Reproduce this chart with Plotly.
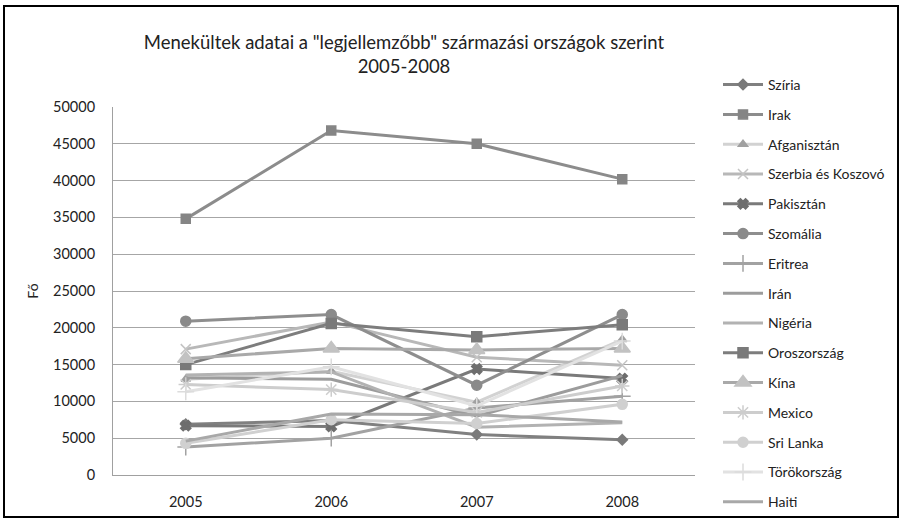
import plotly.graph_objects as go

years = ["2005", "2006", "2007", "2008"]

countries = ["Szíria", "Irak", "Afganisztán", "Szerbia és Koszovó", "Pakisztán",
             "Szomália", "Eritrea", "Irán", "Nigéria", "Oroszország", "Kína",
             "Mexico", "Sri Lanka", "Törökország", "Haiti"]

sziria = [6900, 7400, 5500, 4800]
irak = [34800, 46800, 45000, 40200]
afganisztan = [13000, 14100, 9900, 18400]
szerbia = [17100, 20800, 16000, 14900]
pakisztan = [6700, 6600, 14400, 13100]
szomalia = [20900, 21800, 12200, 21800]
eritrea = [3800, 5000, 9100, 10700]
iran = [13200, 13000, 8000, 13500]
nigeria = [13600, 14000, 6500, 7100]
oroszorszag = [15000, 20600, 18800, 20400]
kina = [15800, 17200, 17000, 17200]
mexico = [12300, 11600, 8500, 12100]
sri_lanka = [4300, 7500, 7000, 9600]
torokorszag = [11300, 14700, 9400, 18200]
haiti = [4600, 8300, 8200, 7200]

series = [sziria, irak, afganisztan, szerbia, pakisztan, szomalia, eritrea, iran,
          nigeria, oroszorszag, kina, mexico, sri_lanka, torokorszag, haiti]

# style: (line color, marker symbol, marker color, marker size)
styles = [
    ("#808080", "diamond", "#7a7a7a", 8),
    ("#8c8c8c", "square", "#858585", 9),
    ("#d2d2d2", "triangle-up", "#a0a0a0", 8),
    ("#b8b8b8", "x-thin-open", "#c4c4c4", 10),
    ("#7a7a7a", "x", "#6e6e6e", 9),
    ("#8e8e8e", "circle", "#8a8a8a", 10),
    ("#a2a2a2", "cross-thin-open", "#a2a2a2", 12),
    ("#9c9c9c", None, None, 0),
    ("#b2b2b2", None, None, 0),
    ("#7d7d7d", "square", "#7a7a7a", 10),
    ("#a9a9a9", "triangle-up", "#c2c2c2", 14),
    ("#cdcdcd", "asterisk-open", "#cdcdcd", 12),
    ("#d0d0d0", "circle", "#d0d0d0", 10),
    ("#e2e2e2", "cross-thin-open", "#dcdcdc", 12),
    ("#a8a8a8", None, None, 0),
]

fig = go.Figure()
for i, (name, vals, st) in enumerate(zip(countries, series, styles)):
    lc, sym, mc, ms = st
    if sym is None:
        mode = "lines"
        marker = None
    else:
        mode = "lines+markers"
        marker = dict(symbol=sym, color=mc, size=ms,
                      line=dict(color=mc, width=1.5))
    fig.add_trace(go.Scatter(
        x=years, y=vals, name=name, mode=mode,
        line=dict(color=lc, width=3),
        marker=marker, legendgroup="g%d" % i,
    ))

L, R, T, B = 113, 209, 107, 46
W, H = 904, 521
pw, ph = W - L - R, H - T - B

def px_x(p):
    return (p - L) / pw

def px_y(p):
    return (H - B - p) / ph

fig.update_layout(
    width=W, height=H,
    margin=dict(l=L, r=R, t=T, b=B, autoexpand=False),
    paper_bgcolor="white", plot_bgcolor="white",
    font=dict(family="Lato, Open Sans, sans-serif", color="#222222", size=14),
    title=dict(
        text='Menekültek adatai a "legjellemzőbb" származási országok szerint<br>2005-2008',
        x=0.5, xref="paper", xanchor="center",
        y=1 - 49 / H, yref="container", yanchor="middle",
        font=dict(size=18.5, color="#222222", family="Lato, Open Sans, sans-serif"),
    ),
    xaxis=dict(
        type="category", range=[-0.5, 3.5],
        showgrid=False, showline=True, linecolor="#a0a0a0", linewidth=1,
        ticks="", tickfont=dict(size=14.5, color="#222222"),
        ticklabelstandoff=14,
        zeroline=False, fixedrange=True,
    ),
    yaxis=dict(
        range=[0, 50000], dtick=5000, tickformat="d",
        showgrid=True, gridcolor="#a6a6a6", gridwidth=1,
        showline=True, linecolor="#a0a0a0", linewidth=1,
        ticks="", tickfont=dict(size=14.5, color="#222222"),
        ticklabelstandoff=14,
        zeroline=False,
        title=dict(text="Fő", font=dict(size=14, color="#222222"), standoff=11),
    ),
    legend=dict(
        x=px_x(718), xanchor="left", y=px_y(69), yanchor="top",
        font=dict(size=14, color="#222222"),
        tracegroupgap=8.6, itemwidth=40, maxheight=480,
        bgcolor="rgba(0,0,0,0)",
    ),
    shapes=[dict(
        type="rect", xref="paper", yref="paper",
        x0=px_x(4), x1=px_x(898), y0=px_y(517), y1=px_y(6),
        line=dict(color="black", width=2), fillcolor="rgba(0,0,0,0)", layer="below",
    )],
)

fig.write_html("out.html", config={"displayModeBar": False},
               post_script="document.body.style.margin='0px';")
